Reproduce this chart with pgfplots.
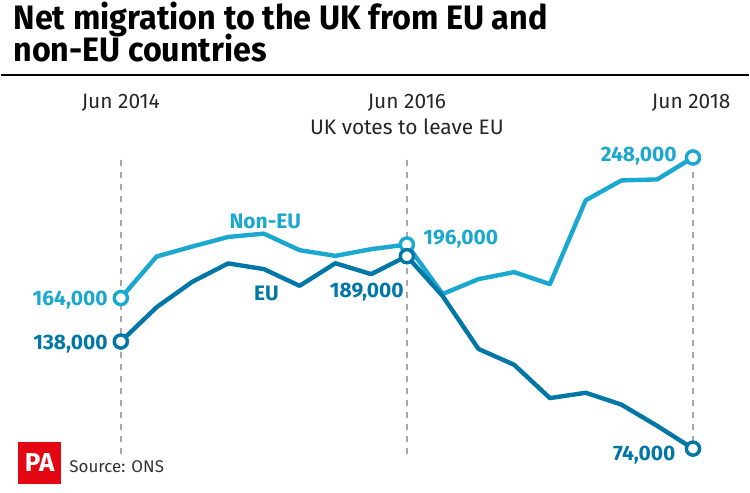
\documentclass[border=0pt]{standalone}
\usepackage{pgfplots}
\pgfplotsset{compat=1.18}
\usepackage{graphicx}
\usepackage{fontspec}
\setmainfont{Fira Sans}
\definecolor{noneu}{HTML}{1AA8D0}
\definecolor{eu}{HTML}{0077A6}
\definecolor{pared}{HTML}{E30613}
\definecolor{dashgray}{HTML}{A8A8A8}
\begin{document}
\begin{tikzpicture}
\begin{axis}[
  width=375pt, height=247pt, scale only axis,
  xmin=-3.345, xmax=17.561, ymin=47839, ymax=342114,
  hide axis, clip=false,
]
\path (rel axis cs:0,0) rectangle (rel axis cs:1,1);
% title
\node[anchor=base west, inner sep=0pt] at (rel axis cs:0.016,0.9393)
  {\resizebox{268pt}{\height}{\fontsize{17}{20}\selectfont\bfseries Net migration to the UK from EU and}};
\node[anchor=base west, inner sep=0pt] at (rel axis cs:0.016,0.8745)
  {\resizebox{127pt}{\height}{\fontsize{17}{20}\selectfont\bfseries non-EU countries}};
\draw[line width=1.2pt] (rel axis cs:0,0.8482) -- (rel axis cs:1,0.8482);
% dashed reference lines
\addplot[dashgray, line width=0.7pt, dash pattern=on 3pt off 3pt] coordinates {(0,71070) (0,249780)};
\addplot[dashgray, line width=0.7pt, dash pattern=on 3pt off 3pt] coordinates {(8,71070) (8,249780)};
\addplot[dashgray, line width=0.7pt, dash pattern=on 3pt off 3pt] coordinates {(16,71070) (16,249780)};
% period labels
\node[font=\fontsize{10.5}{12}\selectfont, text=black!85] at (axis cs:0,280757) {Jun 2014};
\node[font=\fontsize{10.5}{12}\selectfont, text=black!85] at (axis cs:8,280757) {Jun 2016};
\node[font=\fontsize{10.5}{12}\selectfont, text=black!85] at (axis cs:8,266460) {UK votes to leave EU};
\node[font=\fontsize{10.5}{12}\selectfont, text=black!85] at (axis cs:15.95,280757) {Jun 2018};
% Non-EU
\addplot[noneu, line width=2.2pt, line join=round] coordinates {
(0,164000) (1,188800) (2,194800) (3,200500) (4,202500) (5,192600) (6,189200) (7,193200) (8,196000)
(9,166400) (10,175300) (11,179500) (12,172300) (13,222400) (14,234300) (15,234900) (16,248000)};
% EU
\addplot[eu, line width=2.2pt, line join=round] coordinates {
(0,138000) (1,158500) (2,173700) (3,184700) (4,181300) (5,171300) (6,184800) (7,178300) (8,189000)
(9,165200) (10,133600) (11,124100) (12,104200) (13,107400) (14,100300) (15,87600) (16,74000)};
% end markers
\addplot[noneu, only marks, mark=*, mark size=3.3pt, mark options={fill=white, line width=1.7pt}] coordinates {(0,164000) (8,196000) (16,248000)};
\addplot[eu, only marks, mark=*, mark size=3.3pt, mark options={fill=white, line width=1.7pt}] coordinates {(0,138000) (8,189000) (16,74000)};
% value labels
\node[font=\fontsize{10.5}{12}\selectfont\bfseries, text=noneu, anchor=east, inner sep=0pt] at (axis cs:-0.36,162810) {164,000};
\node[font=\fontsize{10.5}{12}\selectfont\bfseries, text=eu, anchor=east, inner sep=0pt] at (axis cs:-0.36,136600) {138,000};
\node[font=\fontsize{10.5}{12}\selectfont\bfseries, text=eu, anchor=east, inner sep=0pt] at (axis cs:7.92,167570) {189,000};
\node[font=\fontsize{10.5}{12}\selectfont\bfseries, text=noneu, anchor=west, inner sep=0pt] at (axis cs:8.45,199150) {196,000};
\node[font=\fontsize{10.5}{12}\selectfont\bfseries, text=noneu, anchor=east, inner sep=0pt] at (axis cs:15.55,248590) {248,000};
\node[font=\fontsize{10.5}{12}\selectfont\bfseries, text=eu, anchor=east, inner sep=0pt] at (axis cs:15.52,69880) {74,000};
\node[font=\fontsize{10.5}{12}\selectfont\bfseries, text=noneu] at (axis cs:4.04,209870) {Non-EU};
\node[font=\fontsize{10.5}{12}\selectfont\bfseries, text=eu] at (axis cs:4.07,166980) {EU};
% footer
\fill[pared] (axis cs:-2.871,52600) rectangle (axis cs:-1.672,78220);
\node[text=white, font=\fontsize{13}{14}\selectfont\bfseries] at (axis cs:-2.27,65410) {PA};
\node[anchor=west, inner sep=0pt, text=black!80, font=\fontsize{8.5}{10}\selectfont] at (axis cs:-1.449,63330) {Source: ONS};
\end{axis}
\end{tikzpicture}
\end{document}
